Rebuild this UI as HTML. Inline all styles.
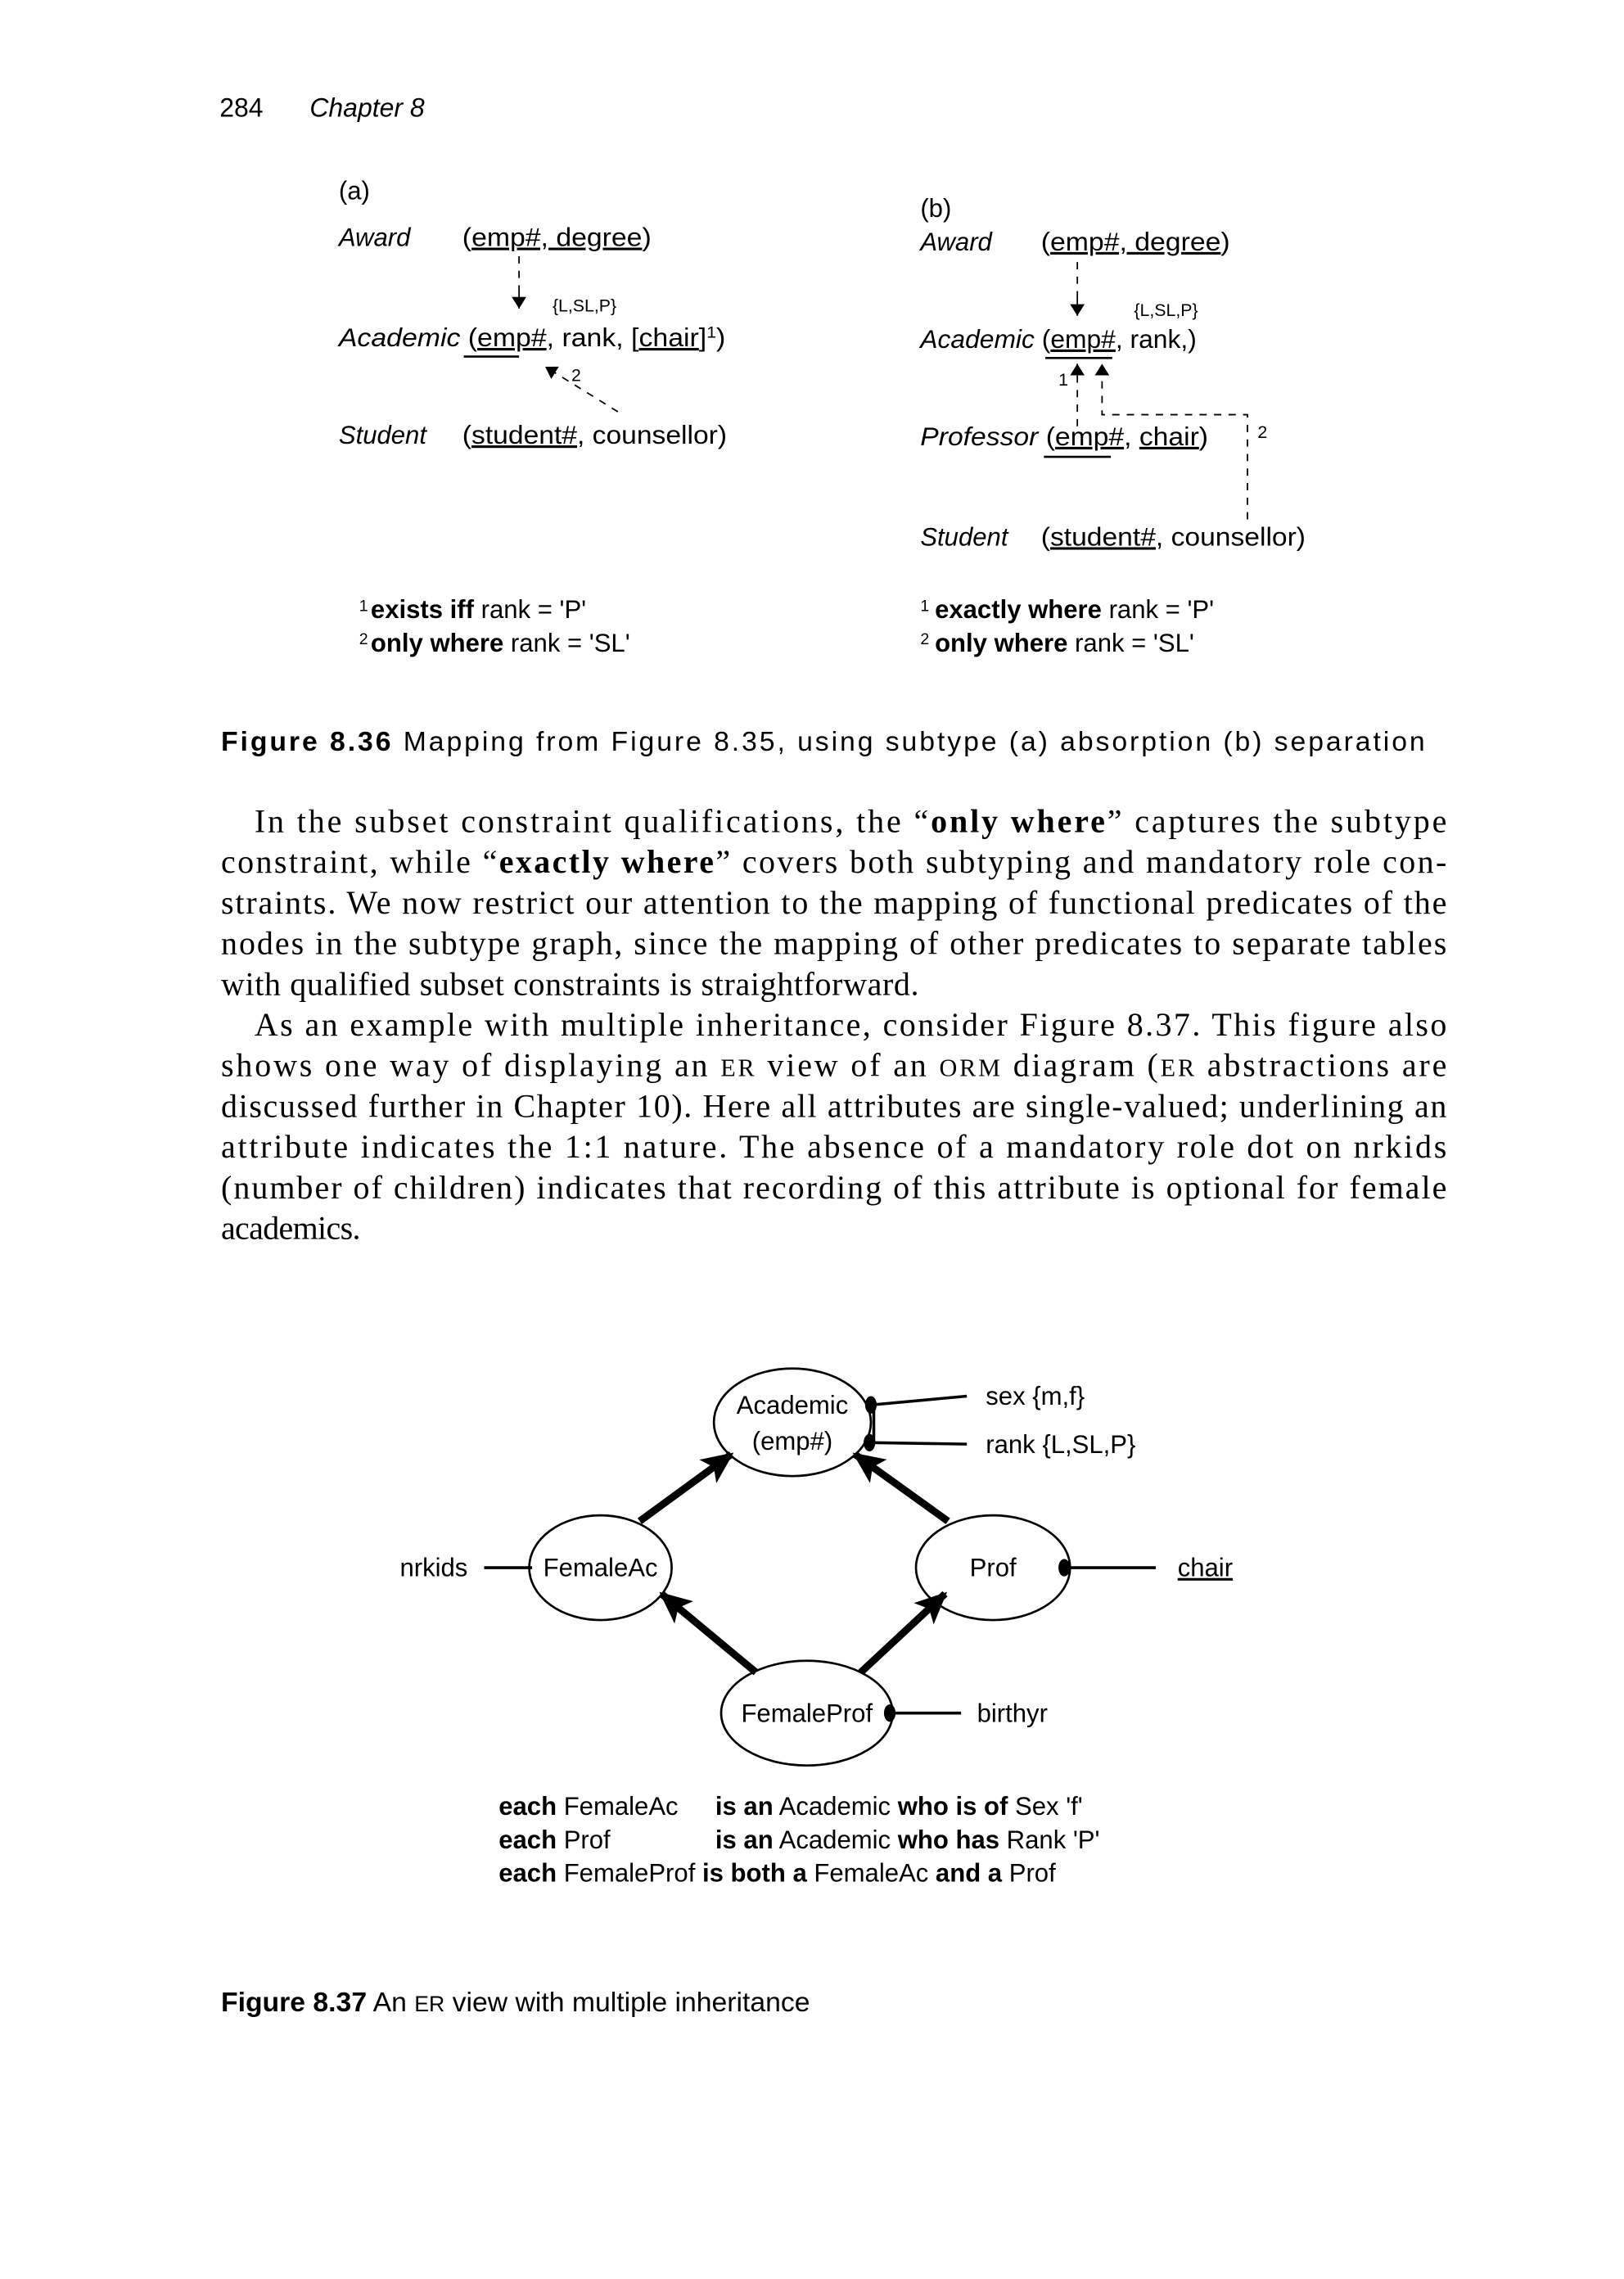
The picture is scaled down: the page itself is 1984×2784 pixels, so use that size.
<!DOCTYPE html>
<html><head><meta charset="utf-8"><style>
html,body{margin:0;padding:0;background:#fff}
svg{display:block}
.s{font-family:"Liberation Sans",Arial,sans-serif}
.r{font-family:"Liberation Serif","Times New Roman",serif;font-size:22.5px}
.f{font-family:"Liberation Sans",Arial,sans-serif;font-size:17.5px}
</style></head><body>
<svg width="1984" height="2784" viewBox="0 0 1117 1567" xmlns="http://www.w3.org/2000/svg">
<defs>
<marker id="ah" markerWidth="8" markerHeight="10" refX="8" refY="5" orient="auto" markerUnits="userSpaceOnUse"><path d="M0,0 L8,5 L0,10 z" fill="#000"/></marker>
<marker id="big" markerWidth="22" markerHeight="20" refX="20" refY="10" orient="auto" markerUnits="userSpaceOnUse"><path d="M0,0 L22,10 L0,20 L5,10 z" fill="#000"/></marker>
</defs>
<text class="s" x="151" y="80" font-size="18">284</text>
<text class="s" x="213" y="80" font-size="18" font-style="italic">Chapter 8</text>

<!-- (a) -->
<g class="f">
<text x="233" y="137">(a)</text>
<text x="233" y="169" font-style="italic">Award</text>
<text x="318" y="169" textLength="130" lengthAdjust="spacingAndGlyphs">(<tspan text-decoration="underline">emp#, degree</tspan>)</text>
<line x1="357" y1="176" x2="357" y2="200" stroke="#000" stroke-dasharray="5,5"/>
<line x1="357" y1="200" x2="357" y2="212" stroke="#000" marker-end="url(#ah)"/>
<text x="380" y="214" font-size="12">{L,SL,P}</text>
<text x="233" y="238" textLength="266" lengthAdjust="spacingAndGlyphs"><tspan font-style="italic">Academic</tspan> (<tspan text-decoration="underline">emp#</tspan>, rank, [<tspan text-decoration="underline">chair</tspan>]<tspan font-size="11" dy="-6">1</tspan><tspan dy="6">)</tspan></text>
<line x1="319" y1="245" x2="357" y2="245" stroke="#000" stroke-width="1.5"/>
<line x1="425" y1="283" x2="375" y2="252" stroke="#000" stroke-dasharray="5,5" marker-end="url(#ah)"/>
<text x="393" y="262" font-size="12">2</text>
<text x="233" y="305" font-style="italic">Student</text>
<text x="318" y="305" textLength="182" lengthAdjust="spacingAndGlyphs">(<tspan text-decoration="underline">student#</tspan>, counsellor)</text>
<text x="247" y="420" font-size="11">1</text><text x="255" y="425"><tspan font-weight="bold">exists iff</tspan> rank = 'P'</text>
<text x="247" y="443" font-size="11">2</text><text x="255" y="448"><tspan font-weight="bold">only where</tspan> rank = 'SL'</text>
</g>

<!-- (b) -->
<g class="f">
<text x="633" y="149">(b)</text>
<text x="633" y="172" font-style="italic">Award</text>
<text x="716" y="172" textLength="130" lengthAdjust="spacingAndGlyphs">(<tspan text-decoration="underline">emp#, degree</tspan>)</text>
<line x1="741" y1="180" x2="741" y2="205" stroke="#000" stroke-dasharray="5,5"/>
<line x1="741" y1="205" x2="741" y2="217" stroke="#000" marker-end="url(#ah)"/>
<text x="780" y="217" font-size="12">{L,SL,P}</text>
<text x="633" y="239" textLength="190" lengthAdjust="spacingAndGlyphs"><tspan font-style="italic">Academic</tspan> (<tspan text-decoration="underline">emp#</tspan>, rank,)</text>
<line x1="719" y1="246" x2="765" y2="246" stroke="#000" stroke-width="1.5"/>
<line x1="741" y1="293" x2="741" y2="250" stroke="#000" stroke-dasharray="5,5" marker-end="url(#ah)"/>
<path d="M858,357 L858,285 L758,285 L758,250" fill="none" stroke="#000" stroke-dasharray="5,5" marker-end="url(#ah)"/>
<text x="728" y="265" font-size="12">1</text>
<text x="865" y="301" font-size="12">2</text>
<text x="633" y="306" textLength="198" lengthAdjust="spacingAndGlyphs"><tspan font-style="italic">Professor</tspan> (<tspan text-decoration="underline">emp#</tspan>, <tspan text-decoration="underline">chair</tspan>)</text>
<line x1="718" y1="314" x2="764" y2="314" stroke="#000" stroke-width="1.5"/>
<text x="633" y="375" font-style="italic">Student</text>
<text x="716" y="375" textLength="182" lengthAdjust="spacingAndGlyphs">(<tspan text-decoration="underline">student#</tspan>, counsellor)</text>
<text x="633" y="420" font-size="11">1</text><text x="643" y="425"><tspan font-weight="bold">exactly where</tspan> rank = 'P'</text>
<text x="633" y="443" font-size="11">2</text><text x="643" y="448"><tspan font-weight="bold">only where</tspan> rank = 'SL'</text>
</g>

<text class="s" x="152" y="516" font-size="19" textLength="828" lengthAdjust="spacing"><tspan font-weight="bold">Figure 8.36</tspan>   Mapping from Figure 8.35, using subtype (a) absorption (b) separation</text>

<g class="r">
<text x="175" y="572" textLength="820" lengthAdjust="spacing">In the subset constraint qualifications, the “<tspan font-weight="bold">only where</tspan>” captures the subtype</text>
<text x="152" y="600" textLength="843" lengthAdjust="spacing">constraint, while “<tspan font-weight="bold">exactly where</tspan>” covers both subtyping and mandatory role con-</text>
<text x="152" y="628" textLength="843" lengthAdjust="spacing">straints. We now restrict our attention to the mapping of functional predicates of the</text>
<text x="152" y="656" textLength="843" lengthAdjust="spacing">nodes in the subtype graph, since the mapping of other predicates to separate tables</text>
<text x="152" y="684" textLength="480" lengthAdjust="spacing">with qualified subset constraints is straightforward.</text>
<text x="175" y="712" textLength="820" lengthAdjust="spacing">As an example with multiple inheritance, consider Figure 8.37. This figure also</text>
<text x="152" y="740" textLength="843" lengthAdjust="spacing">shows one way of displaying an <tspan font-size="17">ER</tspan> view of an <tspan font-size="17">ORM</tspan> diagram (<tspan font-size="17">ER</tspan> abstractions are</text>
<text x="152" y="768" textLength="843" lengthAdjust="spacing">discussed further in Chapter 10). Here all attributes are single-valued; underlining an</text>
<text x="152" y="796" textLength="843" lengthAdjust="spacing">attribute indicates the 1:1 nature. The absence of a mandatory role dot on nrkids</text>
<text x="152" y="824" textLength="843" lengthAdjust="spacing">(number of children) indicates that recording of this attribute is optional for female</text>
<text x="152" y="852" textLength="96" lengthAdjust="spacing">academics.</text>
</g>

<!-- Figure 8.37 -->
<g fill="none" stroke="#000" stroke-width="1.5">
<ellipse cx="545" cy="978" rx="54" ry="37"/>
<ellipse cx="413" cy="1078" rx="49" ry="36"/>
<ellipse cx="683" cy="1078" rx="53" ry="36"/>
<ellipse cx="555" cy="1178" rx="59" ry="36"/>
</g>
<g stroke="#000" stroke-width="5">
<line x1="440" y1="1046" x2="503" y2="1000" marker-end="url(#big)"/>
<line x1="652" y1="1046" x2="588" y2="1000" marker-end="url(#big)"/>
<line x1="520" y1="1150" x2="455" y2="1096" marker-end="url(#big)"/>
<line x1="592" y1="1150" x2="650" y2="1096" marker-end="url(#big)"/>
</g>
<g stroke="#000" stroke-width="2">
<line x1="600" y1="966" x2="665" y2="960"/>
<line x1="600" y1="992" x2="665" y2="993"/>
<line x1="601" y1="966" x2="601" y2="992"/>
<line x1="333" y1="1078" x2="366" y2="1078"/>
<line x1="732" y1="1078" x2="795" y2="1078"/>
<line x1="612" y1="1178" x2="661" y2="1178"/>
</g>
<g fill="#000">
<ellipse cx="599" cy="966" rx="4" ry="6"/>
<ellipse cx="598" cy="992" rx="4" ry="6"/>
<ellipse cx="732" cy="1078" rx="4" ry="6"/>
<ellipse cx="612" cy="1178" rx="4" ry="6"/>
</g>
<g class="f" font-size="18">
<text x="545" y="972" text-anchor="middle">Academic</text>
<text x="545" y="997" text-anchor="middle">(emp#)</text>
<text x="413" y="1084" text-anchor="middle">FemaleAc</text>
<text x="683" y="1084" text-anchor="middle">Prof</text>
<text x="555" y="1184" text-anchor="middle">FemaleProf</text>
<text x="678" y="966">sex {m,f}</text>
<text x="678" y="999">rank {L,SL,P}</text>
<text x="275" y="1084">nrkids</text>
<text x="810" y="1084" text-decoration="underline">chair</text>
<text x="672" y="1184">birthyr</text>
</g>
<g class="f">
<text x="343" y="1248"><tspan font-weight="bold">each</tspan> FemaleAc</text><text x="492" y="1248"><tspan font-weight="bold">is an</tspan> Academic <tspan font-weight="bold">who is of</tspan> Sex 'f'</text>
<text x="343" y="1271"><tspan font-weight="bold">each</tspan> Prof</text><text x="492" y="1271"><tspan font-weight="bold">is an</tspan> Academic <tspan font-weight="bold">who has</tspan> Rank 'P'</text>
<text x="343" y="1294"><tspan font-weight="bold">each</tspan> FemaleProf <tspan font-weight="bold">is both a</tspan> FemaleAc <tspan font-weight="bold">and a</tspan> Prof</text>
</g>

<text class="s" x="152" y="1383" font-size="19"><tspan font-weight="bold">Figure 8.37</tspan>   An <tspan font-size="15">ER</tspan> view with multiple inheritance</text>
</svg>
</body></html>
